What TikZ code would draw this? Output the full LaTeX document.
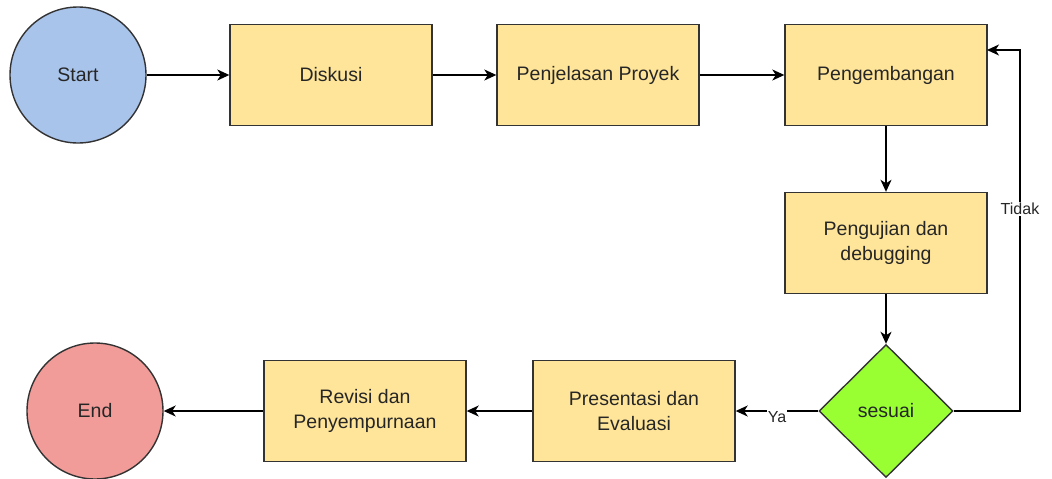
\documentclass[tikz,border=0pt]{standalone}
\usepackage{fontspec}
\setmainfont{Liberation Sans}
\usetikzlibrary{shapes.geometric,arrows.meta}
\definecolor{cblue}{HTML}{A9C4EB}
\definecolor{cyel}{HTML}{FFE599}
\definecolor{cgreen}{HTML}{99FF33}
\definecolor{cred}{HTML}{F19C99}
\definecolor{cline}{HTML}{333333}
\begin{document}
\begin{tikzpicture}[x=1pt,y=-1pt,
  base/.style={draw=cline,line width=1.4pt,text=black!85,font=\fontsize{19.5}{25}\selectfont,align=center,inner sep=0pt},
  term/.style={base,circle,minimum size=136pt},
  proc/.style={base,rectangle,minimum width=202pt,minimum height=101pt},
  dec/.style={base,diamond,minimum width=134pt,minimum height=133pt,fill=cgreen},
  conn/.style={draw=black,line width=1.3pt,-{Stealth[length=12pt,width=11pt,inset=3.5pt]}},
  lbl/.style={fill=white,inner sep=1pt,font=\fontsize{16}{18}\selectfont,text=black!85}]
\useasboundingbox (0,0) rectangle (1052,479);
\node[term,fill=cblue] (start) at (78,75) {Start};
\node[proc,fill=cyel] (disk) at (331,75) {Diskusi};
\node[proc,fill=cyel] (penj) at (598,75) {Penjelasan Proyek};
\node[proc,fill=cyel] (peng) at (886,75) {Pengembangan};
\node[proc,fill=cyel] (uji) at (886,243) {Pengujian dan\\debugging};
\node[dec] (ses) at (886,411) {sesuai};
\node[proc,fill=cyel] (pres) at (634,411) {Presentasi dan\\Evaluasi};
\node[proc,fill=cyel] (rev) at (365,411) {Revisi dan\\Penyempurnaan};
\node[term,fill=cred] (end) at (95,411) {End};
\coordinate (c1) at (1020,411);
\coordinate (c2) at (1020,50);
\coordinate (c3) at (987,50);
\draw[conn] (start) -- (disk);
\draw[conn] (disk) -- (penj);
\draw[conn] (penj) -- (peng);
\draw[conn] (peng) -- (uji);
\draw[conn] (uji) -- (ses);
\draw[conn] (ses) -- node[lbl,pos=0.5,yshift=-6pt] {Ya} (pres);
\draw[conn] (ses.east) -- (c1) -- node[lbl,pos=0.56] {Tidak} (c2) -- (c3);
\draw[conn] (pres) -- (rev);
\draw[conn] (rev) -- (end);
\end{tikzpicture}
\end{document}
